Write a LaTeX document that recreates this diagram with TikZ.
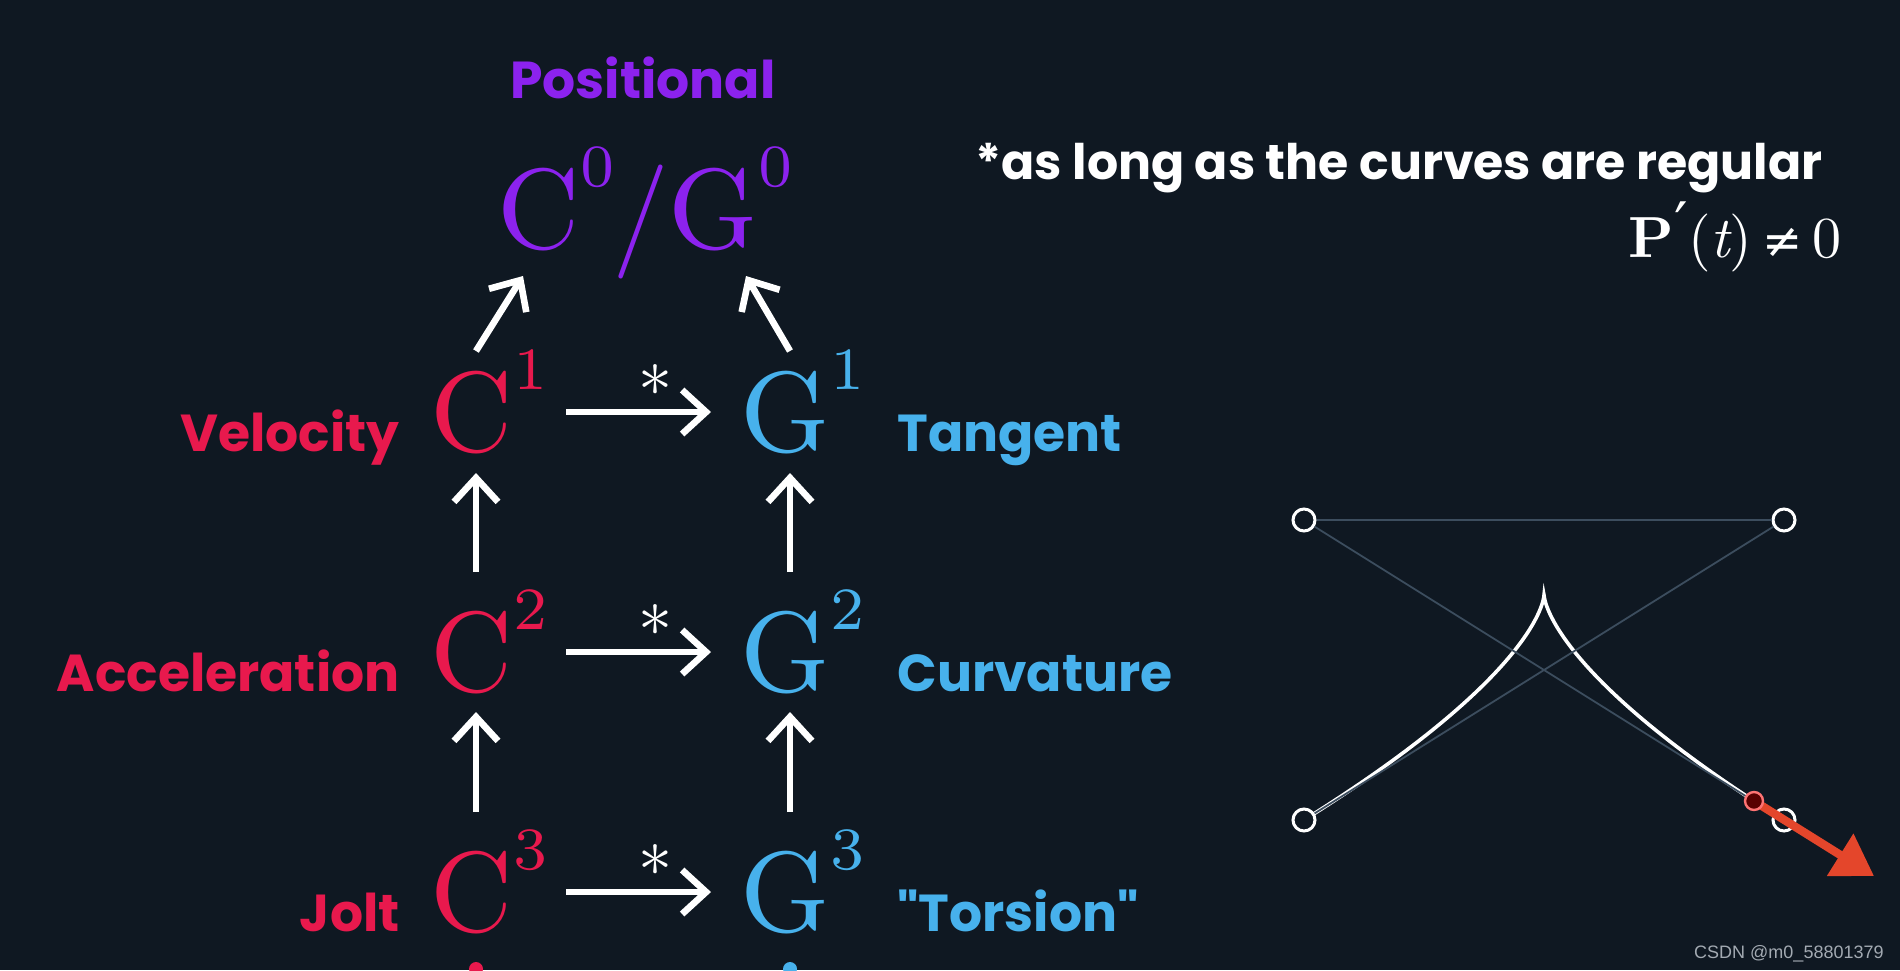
\documentclass[tikz,border=0pt]{standalone}
\usepackage{fontspec}
\usetikzlibrary{arrows.meta,calc}
\newfontfamily\pop{Poppins}
\newfontfamily\lmten{lmroman10-regular.otf}
\newfontfamily\lmsev{lmroman7-regular.otf}
\newfontfamily\lmbold{lmroman10-bold.otf}
\newfontfamily\lmital{lmroman10-italic.otf}
\newfontfamily\djv{DejaVu Sans}
\newfontfamily\wmfont{Liberation Sans}
\definecolor{bg}{HTML}{0F1822}
\definecolor{cred}{HTML}{E8194D}
\definecolor{cblue}{HTML}{47B1EC}
\definecolor{cpurp}{HTML}{8C22EE}
\definecolor{cgray}{HTML}{3C4D5E}
\definecolor{corange}{HTML}{E4462B}
\definecolor{cwm}{HTML}{A3AAB2}
\newcommand\symsup[2]{{\fontsize{57}{60}\lmten #1}\kern0.5pt\raisebox{31pt}{\fontsize{30}{32}\lmsev #2}}
\tikzset{
  bigsym/.style={inner sep=0pt, anchor=base west},
  lbl/.style={inner sep=0pt, font=\pop\bfseries\fontsize{26}{30}\selectfont},
  arr/.style={white, line width=3.3pt, -{Straight Barb[length=12pt,width=22pt]}},
  star/.style={inner sep=0pt, text=white, font=\lmten\fontsize{34}{36}\selectfont},
  cp/.style={circle, draw=white, line width=1.5pt, fill=bg, minimum size=11pt, inner sep=0pt},
  gline/.style={cgray, line width=0.9pt},
}
\begin{document}
\begin{tikzpicture}[x=0.5pt,y=-0.5pt]
\fill[bg] (0,0) rectangle (1900,970);
\useasboundingbox (0,0) rectangle (1900,970);

% top
\node[lbl, text=cpurp, anchor=base] (posl) at (643,98) {Positional};
\node[bigsym, text=cpurp] (c0) at (497,248) {\symsup{C}{0}};
\node[inner sep=0pt, anchor=base, text=cpurp, font=\lmten\fontsize{57}{60}\selectfont] (sl) at (641,250) {/};
\node[bigsym, text=cpurp] (g0) at (668,248) {\symsup{G}{0}};

% rows
\node[bigsym, text=cred] (c1) at (430,451) {\symsup{C}{1}};
\node[bigsym, text=cblue] (g1) at (740,451) {\symsup{G}{1}};
\node[bigsym, text=cred] (c2) at (430,691) {\symsup{C}{2}};
\node[bigsym, text=cblue] (g2) at (740,691) {\symsup{G}{2}};
\node[bigsym, text=cred] (c3) at (430,931) {\symsup{C}{3}};
\node[bigsym, text=cblue] (g3) at (740,931) {\symsup{G}{3}};

\node[lbl, text=cred, anchor=base east] (vel) at (400,451) {Velocity};
\node[lbl, text=cred, anchor=base east] (acc) at (400,691) {Acceleration};
\node[lbl, text=cred, anchor=base east] (jolt) at (400,931) {Jolt};
\node[lbl, text=cblue, anchor=base west] (tan) at (897,451) {Tangent};
\node[lbl, text=cblue, anchor=base west] (curv) at (897,691) {Curvature};
\node[lbl, text=cblue, anchor=base west] (tors) at (897,931) {"Torsion"};

% horizontal arrows
\foreach \r in {1,2,3}{
  \draw[arr] ($(c\r.base west)+(136,-39)$) -- node[star, pos=0.62, yshift=11pt] {*} ($(g\r.base west)+(-29,-39)$);
}
% vertical arrows
\draw[arr] ($(c2.base west)+(46,-119)$) -- ($(c1.base west)+(46,22)$);
\draw[arr] ($(g2.base west)+(50,-119)$) -- ($(g1.base west)+(50,22)$);
\draw[arr] ($(c3.base west)+(46,-119)$) -- ($(c2.base west)+(46,21)$);
\draw[arr] ($(g3.base west)+(50,-119)$) -- ($(g2.base west)+(50,21)$);
% diagonal arrows
\draw[arr] ($(c1.base west)+(46,-100)$) -- ($(c0.base west)+(26,28)$);
\draw[arr] ($(g1.base west)+(50,-100)$) -- ($(g0.base west)+(78,28)$);

% dots below
\node[circle, fill=cred, minimum size=7pt, inner sep=0pt] (dl) at (476,969) {};
\node[circle, fill=cblue, minimum size=7pt, inner sep=0pt] (dr) at (790,969) {};

% note
\node[anchor=base west, inner sep=0pt, text=white, font=\pop\bfseries\fontsize{24.5}{27}\selectfont] (note) at (975,179) {*as long as the curves are regular};
\node[anchor=base east, inner sep=0pt, text=white, font=\fontsize{29}{31}\selectfont] (pt) at (1842,257)
  {{\lmbold P}\raisebox{6pt}{\djv\fontsize{30}{30}\selectfont ′}{\lmten (}{\lmital t}{\lmten )}\kern5pt{\djv\fontsize{24}{26}\selectfont ≠}\kern5pt{\lmten 0}};

% bezier
\coordinate (p0c) at (1304,820);
\coordinate (q0) at (1773,527);
\coordinate (r0) at (1325,520);
\coordinate (s) at (1754,801);
\coordinate (vtip) at (1874,876);
\draw[white, line width=1.8pt] (p0c) .. controls (q0) and (r0) .. (s);
\node[cp] (p0) at (1304,820) {};
\node[cp] (p1) at (1784,520) {};
\node[cp] (p2) at (1304,520) {};
\node[cp] (p3) at (1784,820) {};
\draw[gline] (p2) -- (p1);
\draw[gline] (p0) -- (p1);
\draw[gline] (p2) -- (p3);
\draw[corange, line width=4.2pt, -{Triangle[length=20pt,width=24pt]}] (s) -- (vtip);
\node[circle, fill=red!35!black, draw=red!55!white, line width=1.2pt, minimum size=9pt, inner sep=0pt] (dot) at (s) {};

% watermark
\node[anchor=base east, inner sep=0pt, text=cwm, font=\wmfont\fontsize{9}{10}\selectfont] (wm) at (1884,958) {CSDN @m0\_58801379};
\end{tikzpicture}
\end{document}
